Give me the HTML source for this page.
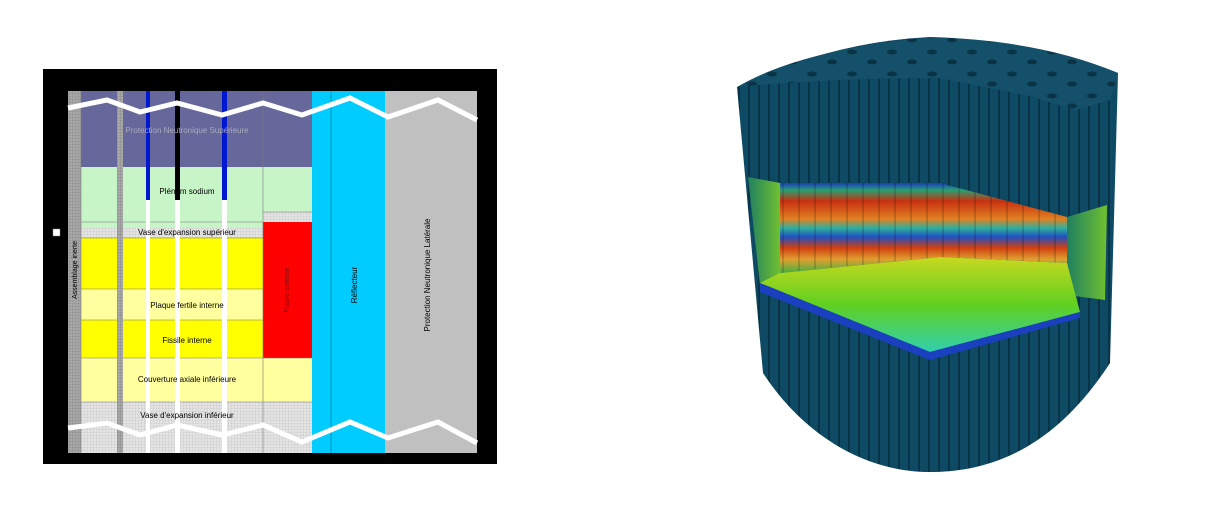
<!DOCTYPE html>
<html><head><meta charset="utf-8"><style>
html,body{margin:0;padding:0;background:#fff;width:1215px;height:528px;overflow:hidden}
svg{display:block;font-family:"Liberation Sans",sans-serif}
</style></head><body>
<svg width="1215" height="528" viewBox="0 0 1215 528">
<defs>
<pattern id="hatch" width="3" height="3" patternUnits="userSpaceOnUse"><rect width="3" height="3" fill="#e4e4e4"/><path d="M0 0H3M0 0V3" stroke="#c8c8c8" stroke-width="0.8"/></pattern>
<pattern id="hatch2" width="3" height="3" patternUnits="userSpaceOnUse"><rect width="3" height="3" fill="#a8a8a8"/><path d="M0 0H3M0 0V3" stroke="#888" stroke-width="0.8"/></pattern>
<linearGradient id="wall" x1="0" y1="0" x2="0" y2="1">
<stop offset="0" stop-color="#1a3cc0"/><stop offset="0.08" stop-color="#2aa070"/><stop offset="0.2" stop-color="#c83010"/><stop offset="0.4" stop-color="#e08020"/><stop offset="0.5" stop-color="#30b0a0"/><stop offset="0.6" stop-color="#2050c0"/><stop offset="0.72" stop-color="#d04010"/><stop offset="0.85" stop-color="#e0a030"/><stop offset="1" stop-color="#40b040"/>
</linearGradient>
<linearGradient id="floor" x1="0" y1="0" x2="0" y2="1"><stop offset="0" stop-color="#c8d820"/><stop offset="0.5" stop-color="#60d020"/><stop offset="1" stop-color="#30d0b0"/></linearGradient>
<linearGradient id="side" x1="0" y1="0" x2="1" y2="0"><stop offset="0" stop-color="#208060"/><stop offset="1" stop-color="#70c030"/></linearGradient>
<pattern id="cols" width="10" height="10" patternUnits="userSpaceOnUse"><rect width="10" height="10" fill="#0e4a63"/><rect x="8" width="2" height="10" fill="#093448"/></pattern>
<pattern id="wcols" width="16" height="10" patternUnits="userSpaceOnUse"><rect width="16" height="10" fill="none"/><rect x="14" width="2" height="10" fill="#000" opacity="0.15"/></pattern>
<pattern id="dots" width="40" height="22" patternUnits="userSpaceOnUse"><rect width="40" height="22" fill="#14506a"/><ellipse cx="12" cy="8" rx="5" ry="2.5" fill="#0a3346"/><ellipse cx="32" cy="18" rx="5" ry="2.5" fill="#0a3346"/></pattern>
</defs>

<g>
<rect x="43" y="69" width="454" height="395" fill="#000"/>
<rect x="68" y="91" width="409" height="362" fill="url(#hatch)"/>
<rect x="68" y="91" width="13" height="362" fill="url(#hatch2)"/>
<rect x="81" y="91" width="231" height="76" fill="#66679a"/>
<rect x="81" y="167" width="182" height="60" fill="#c8f5c8"/>
<rect x="263" y="167" width="49" height="45" fill="#c8f5c8"/>
<rect x="81" y="227" width="182" height="11" fill="url(#hatch)"/>
<rect x="81" y="238" width="182" height="51" fill="#ffff00"/>
<rect x="81" y="289" width="182" height="31" fill="#ffffa0"/>
<rect x="81" y="320" width="182" height="38" fill="#ffff00"/>
<rect x="81" y="358" width="231" height="44" fill="#ffffa0"/>
<rect x="263" y="222" width="49" height="136" fill="#ff0000"/>
<rect x="312" y="91" width="73" height="362" fill="#00ccff"/>
<line x1="331" y1="91" x2="331" y2="453" stroke="#0088aa" stroke-width="0.8"/>
<rect x="385" y="91" width="92" height="362" fill="#c0c0c0"/>
<g stroke="#777" stroke-width="0.6">
<line x1="81" y1="222" x2="263" y2="222"/><line x1="263" y1="212" x2="312" y2="212"/>
<line x1="81" y1="238" x2="263" y2="238"/><line x1="81" y1="289" x2="263" y2="289"/><line x1="81" y1="320" x2="263" y2="320"/><line x1="81" y1="358" x2="312" y2="358"/><line x1="81" y1="402" x2="312" y2="402"/>
<line x1="263" y1="91" x2="263" y2="453"/><line x1="81" y1="91" x2="81" y2="453"/>
</g>
<rect x="117" y="91" width="6" height="362" fill="url(#hatch2)"/>
<rect x="146" y="91" width="4" height="362" fill="#fff"/><rect x="146" y="91" width="4" height="109" fill="#0018d0"/>
<rect x="175" y="91" width="5" height="362" fill="#fff"/><rect x="175" y="91" width="5" height="109" fill="#000"/>
<rect x="222" y="91" width="5" height="362" fill="#fff"/><rect x="222" y="91" width="5" height="109" fill="#0018d0"/>
<polyline points="68,108 107,100 140,112 177,103 222,115 263,103 302,115 350,98 388,117 438,100 477,120" fill="none" stroke="#fff" stroke-width="5"/>
<polyline points="68,428 107,423 140,435 177,425 222,435 263,425 302,442 350,422 388,438 438,422 477,443" fill="none" stroke="#fff" stroke-width="5"/>
<g font-size="8" fill="#000" text-anchor="middle">
<text x="187" y="133" fill="#aab">Protection Neutronique Supérieure</text>
<text x="187" y="194">Plénum sodium</text>
<text x="187" y="235">Vase d'expansion supérieur</text>
<text x="187" y="308">Plaque fertile interne</text>
<text x="187" y="343">Fissile interne</text>
<text x="187" y="382">Couverture axiale inférieure</text>
<text x="187" y="418">Vase d'expansion inférieur</text>
<text transform="translate(289,290) rotate(-90)" font-size="7" fill="#800">Fissile externe</text>
<text transform="translate(357,285) rotate(-90)">Réflecteur</text>
<text transform="translate(430,275) rotate(-90)">Protection Neutronique Latérale</text>
<text transform="translate(77,270) rotate(-90)" font-size="7">Assemblage inerte</text>
</g>
<rect x="53" y="229" width="7" height="7" fill="#fff" stroke="#888" stroke-width="0.5"/>
</g>

<g>
<path d="M737,87 Q830,42 930,37 Q1040,42 1118,73 L1110,363 C1060,440 1000,472 930,472 C860,472 800,430 763,373 Z" fill="url(#cols)"/>
<path d="M737,87 Q800,50 930,37 Q1040,40 1118,73 L1110,100 L1075,110 L1030,96 L940,78 Q830,78 737,87 Z" fill="url(#dots)"/>
<path d="M780,183 L940,183 L1067,217 L1067,263 L940,257 L780,273 Z" fill="url(#wall)"/>
<path d="M780,183 L940,183 L1067,217 L1067,263 L940,257 L780,273 Z" fill="url(#wcols)"/>
<path d="M748,177 L780,183 L780,285 L760,285 Z" fill="url(#side)"/>
<path d="M1067,217 L1107,205 L1105,300 L1067,295 Z" fill="url(#side)"/>
<path d="M760,283 L780,273 L940,257 L1067,263 L1080,312 L930,352 Z" fill="url(#floor)"/>
<path d="M760,283 L930,352 L1080,312 L1080,318 L930,360 L760,292 Z" fill="#1a40c0"/>
</g>
</svg>
</body></html>
